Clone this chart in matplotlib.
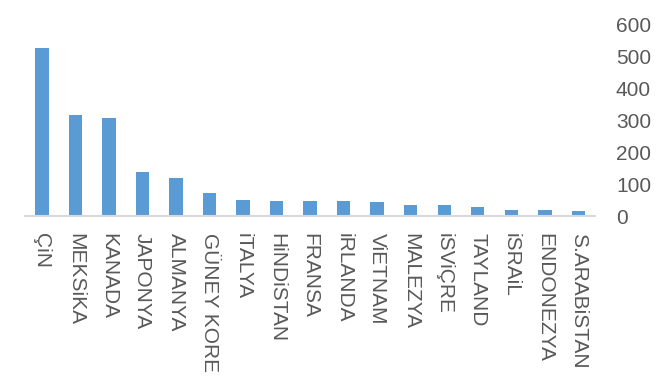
import matplotlib
matplotlib.use("Agg")
import matplotlib.pyplot as plt

countries = ["ÇiN", "MEKSiKA", "KANADA", "JAPONYA", "ALMANYA", "GÜNEY KORE",
             "iTALYA", "HiNDiSTAN", "FRANSA", "iRLANDA", "ViETNAM", "MALEZYA",
             "iSViÇRE", "TAYLAND", "iSRAiL", "ENDONEZYA", "S.ARABiSTAN"]
values = [526, 316, 307, 138, 119, 72, 50, 48, 47, 47, 46, 37, 36, 30, 20, 19, 18]
yticks = [0, 100, 200, 300, 400, 500, 600]

plt.rcParams["font.family"] = ["Liberation Sans", "DejaVu Sans"]
txt = "#595959"

fig = plt.figure(figsize=(6.62, 3.81), dpi=100)
ax = fig.add_axes([0.038, 0.432, 0.861, 0.505])

x = list(range(len(countries)))
ax.bar(x, values, width=0.4, color="#5B9BD5", zorder=2)

ax.set_xlim(-0.5, len(countries) - 0.5)
ax.set_ylim(0, 600)
ax.set_yticks(yticks)
ax.yaxis.tick_right()
ax.set_xticks(x)
ax.set_xticklabels(countries, rotation=-90, ha="center", va="top")

for s in ["top", "left", "right"]:
    ax.spines[s].set_visible(False)
ax.spines["bottom"].set_color("#D9D9D9")
ax.spines["bottom"].set_linewidth(1.5)

ax.tick_params(axis="y", length=0, pad=15, labelsize=15, labelcolor=txt)
ax.tick_params(axis="x", length=0, pad=12, labelsize=15, labelcolor=txt)

fig.savefig("out.png", dpi=100)
